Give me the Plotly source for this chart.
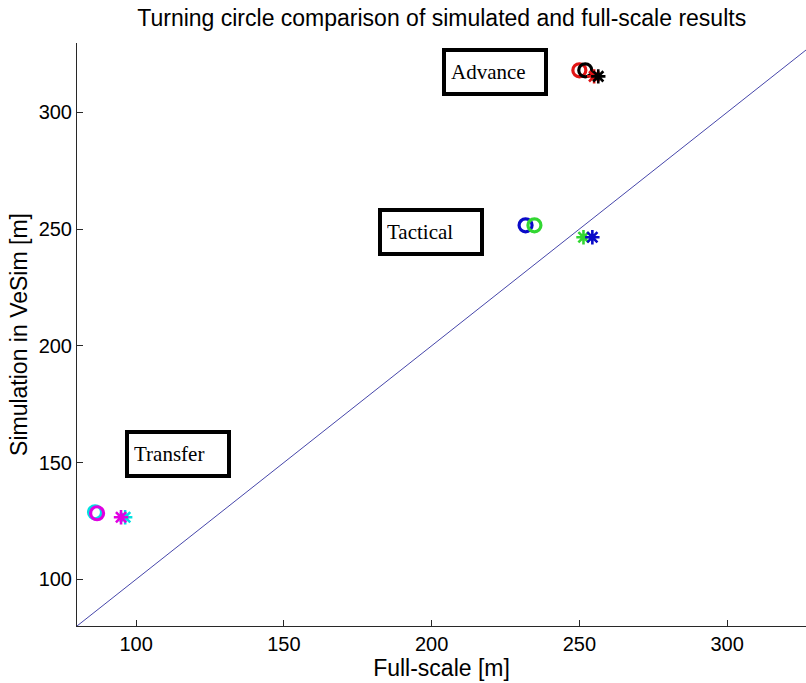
import plotly.graph_objects as go

# Turning circle measures: full-scale trials vs. VeSim simulation
measures = ["Advance", "Tactical", "Transfer"]

# Open-circle markers (x = full-scale [m], y = simulation [m])
circle_x = [250.0, 252.0, 231.8, 234.8, 86.1, 86.8]
circle_y = [318.0, 318.0, 251.6, 251.6, 128.7, 128.3]
circle_colors = ["rgb(225,20,20)", "rgb(0,0,0)", "rgb(10,10,200)",
                 "rgb(50,215,50)", "rgb(0,225,225)", "rgb(225,0,225)"]

# Asterisk markers
star_x = [255.0, 256.4, 251.4, 254.4, 96.3, 94.9]
star_y = [315.4, 315.4, 246.5, 246.5, 126.6, 126.6]
star_colors = ["rgb(225,20,20)", "rgb(0,0,0)", "rgb(50,215,50)",
               "rgb(10,10,200)", "rgb(0,225,225)", "rgb(225,0,225)"]

# Label box positions (data coordinates)
label_x = [221.3, 199.7, 114.2]
label_y = [317.1, 248.6, 153.5]

x_range = [80, 326.7]
y_range = [80, 329.7]
tick_vals = [100, 150, 200, 250, 300]

SANS = "Liberation Sans, Arial, sans-serif"

fig = go.Figure()

# Line of equality y = x
fig.add_trace(go.Scatter(
    x=[x_range[0], x_range[1]], y=[x_range[0], x_range[1]],
    mode="lines", line=dict(color="rgb(70,70,170)", width=1),
    hoverinfo="skip", showlegend=False,
))

fig.add_trace(go.Scatter(
    x=circle_x, y=circle_y, mode="markers", showlegend=False,
    marker=dict(symbol="circle-open", size=13, color=circle_colors,
                line=dict(width=3.2, color=circle_colors)),
))

fig.add_trace(go.Scatter(
    x=star_x, y=star_y, mode="markers", showlegend=False,
    marker=dict(symbol="asterisk-open", size=12, color=star_colors,
                line=dict(width=2.6, color=star_colors)),
))

for name, lx, ly in zip(measures, label_x, label_y):
    fig.add_annotation(
        x=lx, y=ly, xref="x", yref="y", text=name, showarrow=False,
        font=dict(family="Liberation Serif, Times New Roman, serif", size=21, color="black"),
        align="left", width=88, height=30, borderpad=5,
        bordercolor="black", borderwidth=4, bgcolor="white",
    )

axis_common = dict(
    showgrid=False, zeroline=False, showline=True, linecolor="rgb(40,40,40)",
    linewidth=1, ticks="inside", ticklen=6, tickcolor="rgb(40,40,40)",
    tickfont=dict(family=SANS, size=20, color="black"),
    mirror=False,
)

fig.update_xaxes(range=x_range, tickvals=tick_vals, **axis_common,
                 title=dict(text="Full-scale [m]", standoff=3,
                            font=dict(family=SANS, size=23, color="black")))
fig.update_yaxes(range=y_range, tickvals=tick_vals, **axis_common,
                 title=dict(text="Simulation in VeSim [m]", standoff=4,
                            font=dict(family=SANS, size=23, color="black")))

fig.update_layout(
    width=806, height=683,
    margin=dict(l=77, r=0, t=43, b=57),
    paper_bgcolor="white", plot_bgcolor="white",
    title=dict(text="Turning circle comparison of simulated and full-scale results",
               x=0.548, xanchor="center", y=0.974, yanchor="middle",
               font=dict(family=SANS, size=23, color="black")),
)

fig.write_html("out.html")
